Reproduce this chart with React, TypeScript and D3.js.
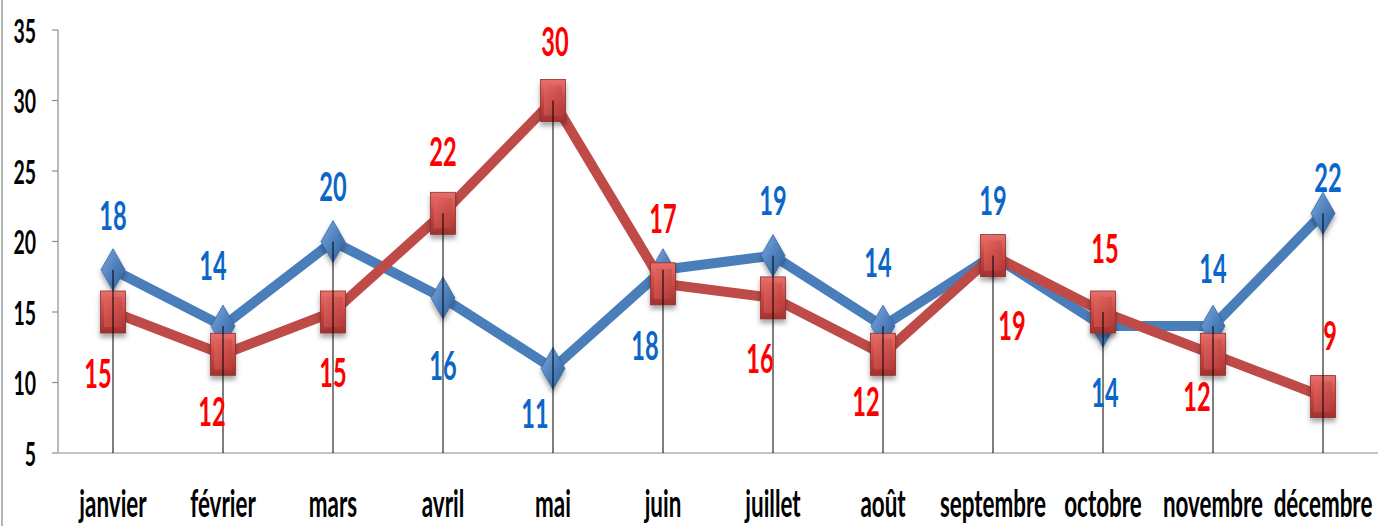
import React from "react";
import * as d3 from "d3";

const months = ["janvier", "février", "mars", "avril", "mai", "juin", "juillet", "août", "septembre", "octobre", "novembre", "décembre"];
const blueValues = [18, 14, 20, 16, 11, 18, 19, 14, 19, 14, 14, 22];
const redValues = [15, 12, 15, 22, 30, 17, 16, 12, 19, 15, 12, 9];
const yTicks = [5, 10, 15, 20, 25, 30, 35];

// label offsets (layout, px) relative to each point
const blueLabelDx = [0, -10, 0, 0, -18, -18, 0, -5, 0, 2, 0, 5];
const blueLabelDy = [-55, -61, -56, 67, 44, 75, -56, -64, -56, 66, -58, -37];
const redLabelDx = [-15, -11, 0, 0, 2, 0, -13, -17, 19, 2, -16, 7];
const redLabelDy = [61, 56, 60, -63, -60, -66, 60, 46, 69, -64, 41, -62];

const W = 1378;
const H = 526;
const left = 58;
const right = 1378;
const top = 30;
const bottom = 453;
const SX = 0.59;
const FONT = "Lato, 'Open Sans', sans-serif";

export default function App() {
  const x = d3.scaleBand<string>().domain(months).range([left, right]);
  const y = d3.scaleLinear().domain([5, 35]).range([bottom, top]);
  const cx = (m: string) => (x(m) as number) + x.bandwidth() / 2;
  const line = d3
    .line<number>()
    .x((_, i) => cx(months[i]))
    .y((v) => y(v));

  const diamond = (px: number, py: number) => {
    const hw = 12, hh = 21;
    return `M${px},${py - hh}L${px + hw},${py}L${px},${py + hh}L${px - hw},${py}Z`;
  };

  const label = (txt: string, px: number, py: number, color: string, key: string, size = 40, anchor = "middle", baseline = "central") => (
    <text
      key={key}
      transform={`translate(${px},${py}) scale(${SX},1)`}
      textAnchor={anchor}
      dominantBaseline={baseline}
      fill={color}
      fontFamily={FONT}
      fontWeight={700}
      fontSize={size}
    >
      {txt}
    </text>
  );

  return (
    <svg width={W} height={H} style={{ position: "absolute", left: 0, top: 0, background: "#fff" }}>
      <defs>
        <linearGradient id="gRed" x1="0" y1="0" x2="0" y2="1">
          <stop offset="0" stopColor="#E8706C" />
          <stop offset="0.45" stopColor="#CC4A46" />
          <stop offset="1" stopColor="#A2322F" />
        </linearGradient>
        <linearGradient id="gRedIn" x1="0" y1="0" x2="1" y2="1">
          <stop offset="0" stopColor="#E46662" />
          <stop offset="1" stopColor="#B63C39" />
        </linearGradient>
        <linearGradient id="gBlue" x1="0" y1="0" x2="1" y2="1">
          <stop offset="0" stopColor="#7FA9E0" />
          <stop offset="0.5" stopColor="#4F81BD" />
          <stop offset="1" stopColor="#2E5D96" />
        </linearGradient>
        <filter id="sh" x="-50%" y="-50%" width="200%" height="200%">
          <feDropShadow dx="0" dy="4" stdDeviation="2.5" floodColor="#000" floodOpacity="0.35" />
        </filter>
      </defs>

      {/* frame left edge */}
      <line x1={2} x2={2} y1={0} y2={H} stroke="#9a9a9a" strokeWidth={1.5} />

      {/* y axis */}
      <line x1={left} x2={left} y1={top} y2={bottom} stroke="#8c8c8c" strokeWidth={1.2} />
      {yTicks.map((t) => (
        <g key={"t" + t}>
          <line x1={left - 6} x2={left} y1={y(t)} y2={y(t)} stroke="#8c8c8c" strokeWidth={1.2} />
          {label(String(t), 36, y(t), "#000", "tl" + t, 33, "end")}
        </g>
      ))}
      {/* x axis */}
      <line x1={left} x2={right} y1={bottom} y2={bottom} stroke="#8c8c8c" strokeWidth={1.2} />
      {months.map((m) => label(m, cx(m), 517, "#000", "c" + m, 38, "middle", "alphabetic"))}

      {/* blue series */}
      <path d={line(blueValues) || ""} fill="none" stroke="#4A7EBB" strokeWidth={10} strokeLinejoin="round" />
      {blueValues.map((v, i) => (
        <path key={"bd" + i} d={diamond(cx(months[i]), y(v))} fill="url(#gBlue)" stroke="#3A6AA5" strokeWidth={0.8} filter="url(#sh)" />
      ))}

      {/* red series */}
      <path d={line(redValues) || ""} fill="none" stroke="#BE4B48" strokeWidth={10} strokeLinejoin="round" />
      {redValues.map((v, i) => {
        const px = cx(months[i]);
        const py = y(v);
        return (
          <g key={"rs" + i} filter="url(#sh)">
            <rect x={px - 12.5} y={py - 21} width={25} height={42} fill="url(#gRed)" stroke="#8E2F2C" strokeWidth={0.8} />
            <rect x={px - 9} y={py - 15} width={18} height={30} fill="url(#gRedIn)" opacity={0.8} />
          </g>
        );
      })}

      {/* drop lines */}
      {months.map((m, i) => (
        <line key={"dl" + i} x1={cx(m)} x2={cx(m)} y1={Math.min(y(blueValues[i]), y(redValues[i]))} y2={bottom} stroke="#000" strokeWidth={1} />
      ))}

      {/* data labels */}
      {blueValues.map((v, i) => label(String(v), cx(months[i]) + blueLabelDx[i], y(v) + blueLabelDy[i], "#0B66C8", "bl" + i))}
      {redValues.map((v, i) => label(String(v), cx(months[i]) + redLabelDx[i], y(v) + redLabelDy[i], "#FF0000", "rl" + i))}
    </svg>
  );
}
